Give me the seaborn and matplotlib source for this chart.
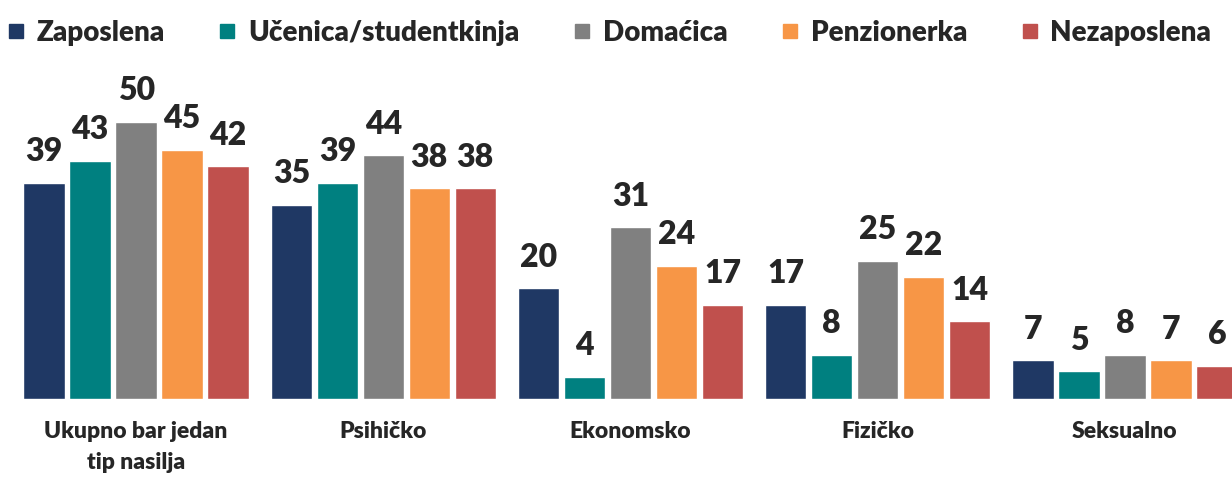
import pandas as pd
import matplotlib.pyplot as plt
import seaborn as sns
from matplotlib.lines import Line2D

# -----------------------------
# Data
# -----------------------------
categories = ["Ukupno bar jedan\ntip nasilja", "Psihičko", "Ekonomsko", "Fizičko", "Seksualno"]
groups = ["Zaposlena", "Učenica/studentkinja", "Domaćica", "Penzionerka", "Nezaposlena"]
zaposlena = [39, 35, 20, 17, 7]
ucenica = [43, 39, 4, 8, 5]
domacica = [50, 44, 31, 25, 8]
penzionerka = [45, 38, 24, 22, 7]
nezaposlena = [42, 38, 17, 14, 6]

colors = ["#1F3864", "#008080", "#808080", "#F79646", "#C0504D"]

rows = []
for g, vals in zip(groups, [zaposlena, ucenica, domacica, penzionerka, nezaposlena]):
    for c, v in zip(categories, vals):
        rows.append({"tip": c, "status": g, "value": v})
df = pd.DataFrame(rows)

sns.set_style("white")
plt.rcParams["font.family"] = ["Lato", "DejaVu Sans"]
W = "heavy"

fig = plt.figure(figsize=(12.32, 4.8), dpi=100)
ax = fig.add_axes([12.5 / 1232, 81 / 480, 1236 / 1232, 304.7 / 480])

sns.barplot(data=df, x="tip", y="value", hue="status", order=categories,
            hue_order=groups, palette=colors, width=0.93, gap=0.1,
            saturation=1, ax=ax, legend=False)

for cont in ax.containers:
    ax.bar_label(cont, fmt="%d", padding=12, fontsize=23, fontweight=W)

ax.set_ylim(0, 55)
ax.set_xlim(-0.5, 4.5)
ax.set_xlabel("")
ax.set_ylabel("")
ax.set_yticks([])
ax.tick_params(axis="x", length=0, pad=16)
for lab in ax.get_xticklabels():
    lab.set_fontsize(16.5)
    lab.set_fontweight(W)
    lab.set_linespacing(1.55)
sns.despine(ax=ax, left=True, top=True, right=True, bottom=True)

# Legend
handles = [Line2D([0], [0], marker="s", color="none", markerfacecolor=c,
                  markeredgecolor=c, markersize=10) for c in colors]
fig.legend(handles, groups, loc="upper center", bbox_to_anchor=(0.494, 1.01),
           ncol=5, frameon=False, handletextpad=0.4, columnspacing=1.9,
           prop={"size": 20, "weight": W}, handlelength=0.7)

plt.savefig("out.png", dpi=100)
